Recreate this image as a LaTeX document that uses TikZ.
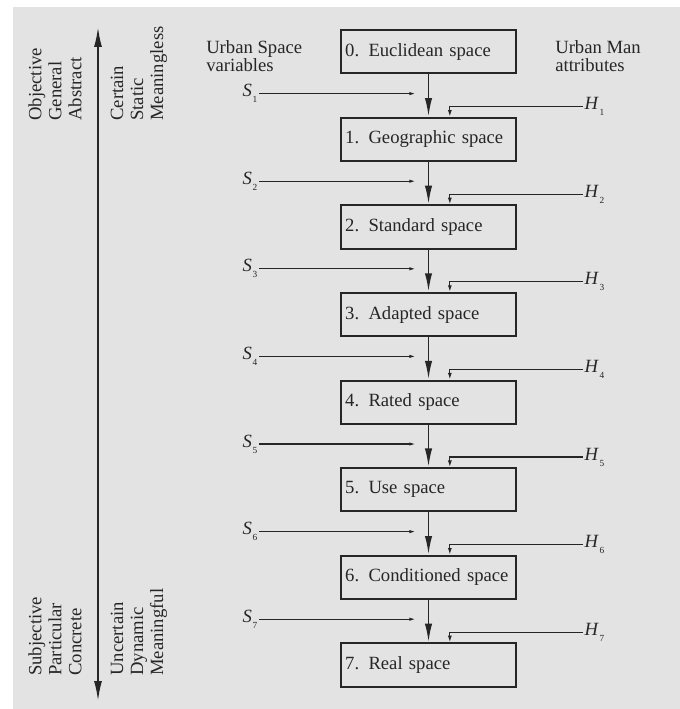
\documentclass[tikz,border=0pt]{standalone}
\usepackage{fontspec}
\setmainfont{Liberation Serif}
\usetikzlibrary{arrows.meta}

\begin{document}
\begin{tikzpicture}[x=0.75pt, y=-0.75pt,
    every node/.style={font=\fontsize{14}{13.5}\selectfont, text=black!85},
    spacebox/.style={draw=black!85, line width=1.5pt, minimum width=131pt,
      minimum height=32.5pt, text width=125pt, inner xsep=3pt, align=left},
    sidetext/.style={rotate=90, align=left, anchor=west, inner sep=0pt,
      font=\fontsize{14}{15}\selectfont},
    mainarrow/.style={draw=black!85, line width=1.4pt, -{Latex[length=14pt, width=5.5pt]}},
    sline/.style={draw=black!85, line width=0.9pt, -{Latex[length=5pt, width=2.5pt]}},
    hline/.style={draw=black!85, line width=0.9pt, -{Latex[length=5pt, width=3pt]}}]
            \useasboundingbox (0,0) rectangle (680,709);
            \fill[white] (0,0) rectangle (680,709);
            \fill[black!11] (13,7) rectangle (680,709);
            % the eight spaces
            \foreach \i/\txt in {0/Euclidean space, 1/Geographic space,
              2/Standard space, 3/Adapted space, 4/Rated space,
              5/Use space, 6/Conditioned space, 7/Real space}
              \node[spacebox] (b\i) at (428.5, 51.8+87.6*\i) {\i.\enspace \txt};
            % variables S and attributes H
            \foreach \i [evaluate=\i as \j using int(\i-1)] in {1,...,7} {
              \draw[mainarrow] (b\j) -- (b\i);
              \node[anchor=east, inner sep=1pt] (s\i) at (259, 6+87.6*\i)
                {\textit{S}\kern.5pt\raisebox{-.7ex}{\scriptsize\i}};
              \coordinate (se\i) at (416, 6+87.6*\i);
              \draw[sline] (s\i) -- (se\i);
              \node[anchor=west, inner sep=1pt] (h\i) at (583, 19+87.6*\i)
                {\textit{H}\kern.5pt\raisebox{-.7ex}{\scriptsize\i}};
              \draw[hline] (h\i) -| ([xshift=16pt]b\i.north);
            }
            \node[anchor=west, align=left, inner sep=0pt] (svar) at (206, 56)
              {Urban Space\\variables};
            \node[anchor=west, align=left, inner sep=0pt] (hatt) at (555, 56)
              {Urban Man\\attributes};
            % scale on the left
            \coordinate (top) at (98, 27);
            \coordinate (bot) at (98, 701);
            \draw[draw=black!85, line width=1.4pt,
              {Latex[length=15pt, width=6pt]}-{Latex[length=15pt, width=6pt]}] (bot) -- (top);
            \node[sidetext] (obj) at (55, 121) {Objective\\General\\Abstract};
            \node[sidetext] (cer) at (139, 121) {Certain\\Static\\Meaningless};
            \node[sidetext] (sub) at (55, 676) {Subjective\\Particular\\Concrete};
            \node[sidetext] (unc) at (139, 676) {Uncertain\\Dynamic\\Meaningful};
        \end{tikzpicture}
\end{document}
